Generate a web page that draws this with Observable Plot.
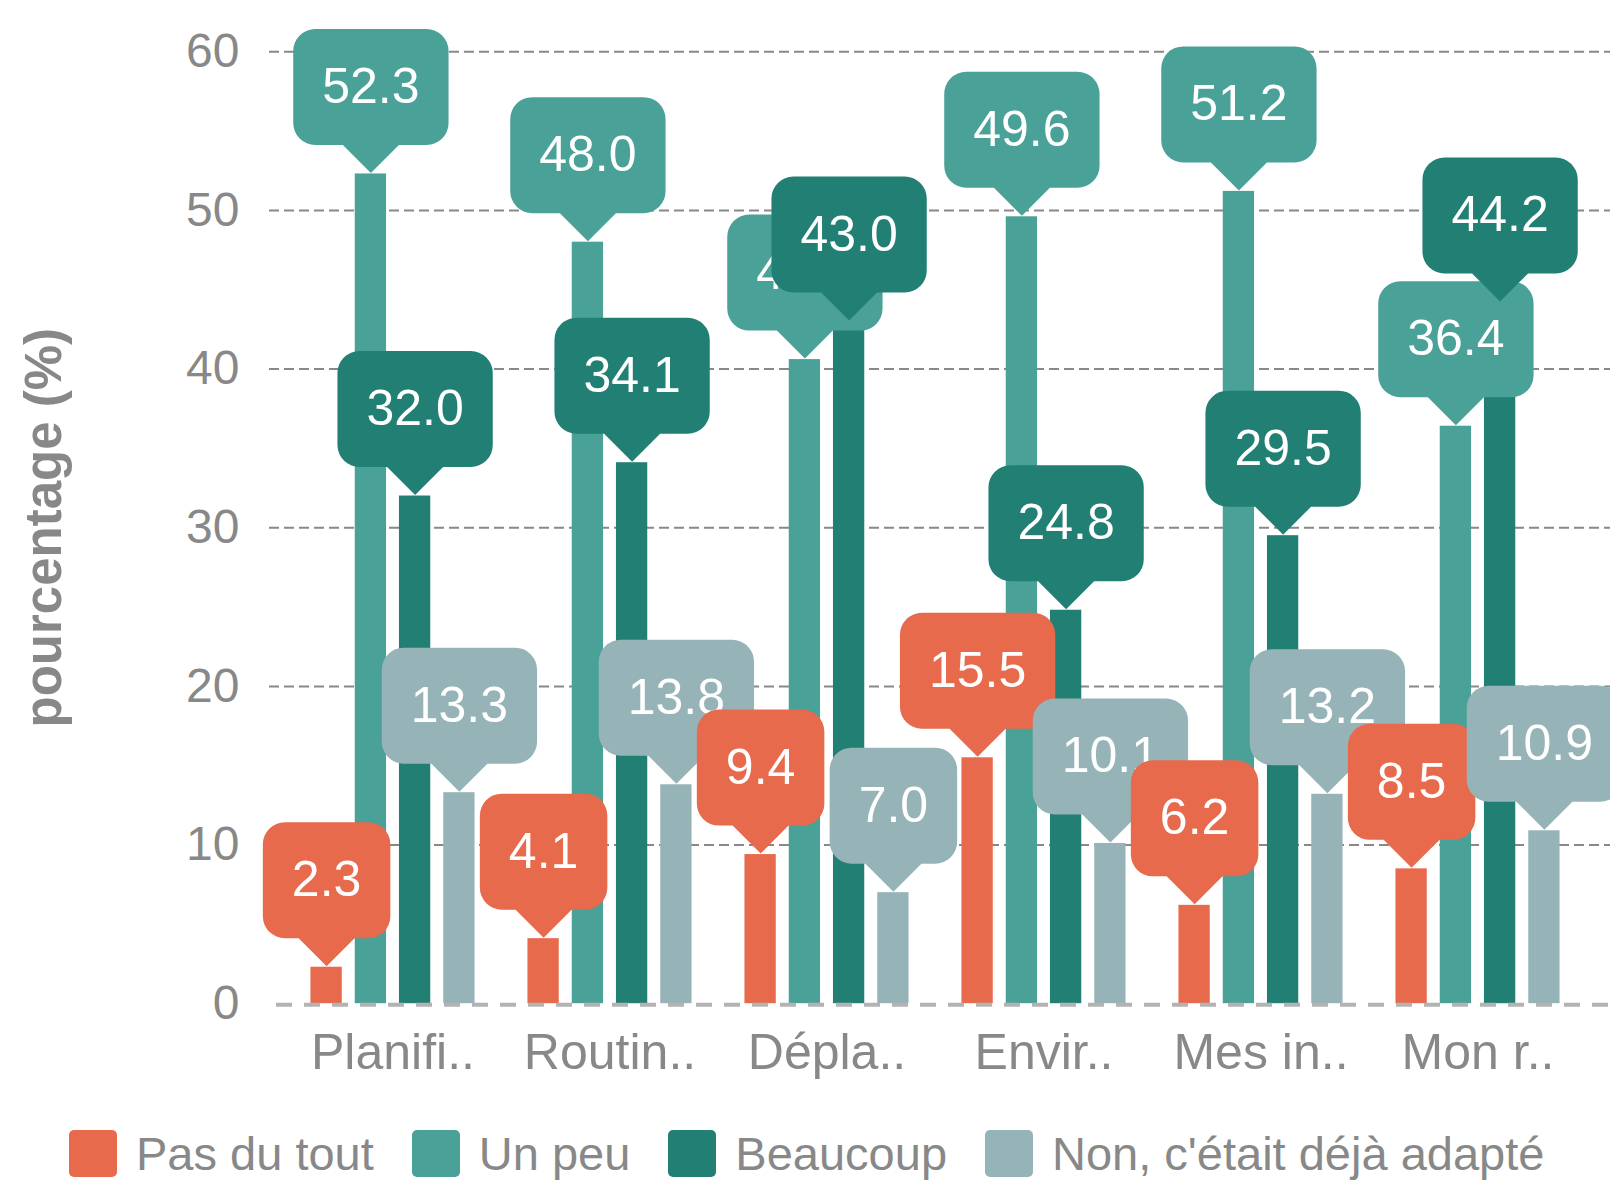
<!DOCTYPE html>
<html><head><meta charset="utf-8">
<script src="https://cdn.jsdelivr.net/npm/d3@7"></script>
<script src="https://cdn.jsdelivr.net/npm/@observablehq/plot@0.6"></script>
<style>
body{margin:0;background:#fff;font-family:"Liberation Sans",Arial,sans-serif;}
#wrap{position:relative;width:1610px;height:1182px;overflow:hidden;background:#fff}
#legend{position:absolute;left:69px;top:1130px;display:flex;align-items:center;white-space:nowrap}
.item{display:flex;align-items:center;margin-right:38px}
.sw{width:48px;height:47px;border-radius:5px;margin-right:19px;flex:none}
.lab{font-size:47px;color:#888;line-height:47px}
</style></head><body><div id="wrap"><div id="chart"></div><div id="legend"></div></div>
<script>
const categories = ["Planifi..", "Routin..", "Dépla..", "Envir..", "Mes in..", "Mon r.."];
const series = ["Pas du tout", "Un peu", "Beaucoup", "Non, c'était déjà adapté"];
const pasDuTout = [2.3, 4.1, 9.4, 15.5, 6.2, 8.5];
const unPeu = [52.3, 48.0, 40.6, 49.6, 51.2, 36.4];
const beaucoup = [32.0, 34.1, 43.0, 24.8, 29.5, 44.2];
const nonAdapte = [13.3, 13.8, 7.0, 10.1, 13.2, 10.9];
const yTicks = [0, 10, 20, 30, 40, 50, 60];
const colors = ["#e86a4d", "#4aa197", "#227f74", "#96b4b8"];

const values = [pasDuTout, unPeu, beaucoup, nonAdapte];
const rows = categories.flatMap((c, i) => series.map((s, j) => ({cat: c, series: s, j, value: values[j][i]})));

const offsets = [-66.4, -22.1, 22.1, 66.4];
const barInset = 92.85;

const cv = document.createElement("canvas").getContext("2d");
cv.font = "50px 'Liberation Sans', Arial, sans-serif";
function callout(w) {
  const h = 116, p = 28, rad = 22;
  return {draw(ctx) {
    const x0 = -w / 2, x1 = w / 2, yb = -p, yt = -p - h;
    ctx.moveTo(x0 + rad, yt);
    ctx.lineTo(x1 - rad, yt);
    ctx.arcTo(x1, yt, x1, yt + rad, rad);
    ctx.lineTo(x1, yb - rad);
    ctx.arcTo(x1, yb, x1 - rad, yb, rad);
    ctx.lineTo(p, yb);
    ctx.lineTo(0, 0);
    ctx.lineTo(-p, yb);
    ctx.lineTo(x0 + rad, yb);
    ctx.arcTo(x0, yb, x0, yb - rad, rad);
    ctx.lineTo(x0, yt + rad);
    ctx.arcTo(x0, yt, x0 + rad, yt, rad);
    ctx.closePath();
  }};
}

const bars = series.map((s, j) => Plot.barY(rows.filter(r => r.series === s), {
  x: "cat", y: "value", fill: colors[j], dx: offsets[j], insetLeft: barInset, insetRight: barInset
}));

const callouts = rows.flatMap(r => {
  const label = r.value.toFixed(1);
  const w = cv.measureText(label).width + 58;
  return [
    Plot.dot([r], {x: "cat", y: "value", dx: offsets[r.j], dy: -1, symbol: callout(w), fill: colors[r.j], stroke: "none"}),
    Plot.text([r], {x: "cat", y: "value", dx: offsets[r.j], dy: -87, text: d => d.value.toFixed(1), fill: "white", fontSize: 50})
  ];
});

const chart = Plot.plot({
  width: 1610, height: 1115,
  marginLeft: 269, marginRight: 0, marginTop: 51.3, marginBottom: 111.8,
  style: {fontFamily: "'Liberation Sans', Arial, sans-serif", background: "white", color: "#888", overflow: "visible"},
  x: {domain: categories, range: [282, 1587], padding: 0, label: null},
  y: {domain: [0, 60], label: null},
  marks: [
    Plot.ruleY(yTicks.filter(t => t > 0), {stroke: "#888", strokeWidth: 2, strokeDasharray: "10,5"}),
    ...bars,
    Plot.ruleY([0], {stroke: "#b3b3b3", strokeWidth: 4, strokeDasharray: "16,12", insetLeft: 7, dy: 1}),
    Plot.axisY({ticks: yTicks, tickSize: 0, tickPadding: 30, fontSize: 48, label: null}),
    Plot.axisX({tickSize: 0, tickPadding: 30, fontSize: 50, label: null}),
    Plot.text(["pourcentage (%)"], {text: d => d, frameAnchor: "left", textAnchor: "middle", lineAnchor: "middle", rotate: -90, dx: -225, fontSize: 51, fontWeight: "bold", fill: "#888"}),
    ...callouts
  ]
});
document.getElementById("chart").appendChild(chart);

const legend = document.getElementById("legend");
series.forEach((s, j) => {
  const it = document.createElement("div"); it.className = "item";
  const sw = document.createElement("div"); sw.className = "sw"; sw.style.background = colors[j];
  const lb = document.createElement("span"); lb.className = "lab"; lb.textContent = s;
  it.appendChild(sw); it.appendChild(lb); legend.appendChild(it);
});
</script>
</body></html>
